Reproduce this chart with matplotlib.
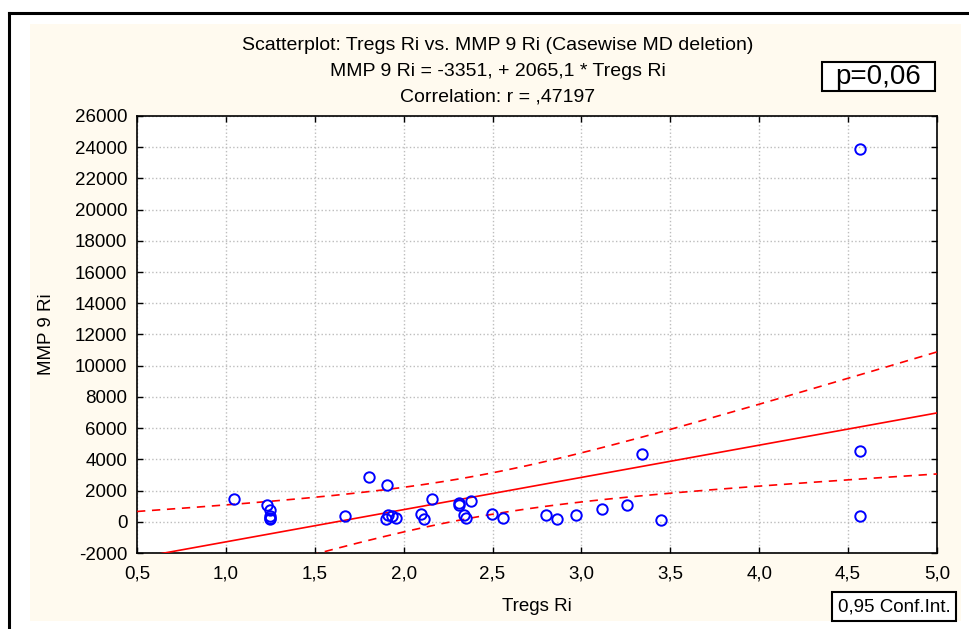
import numpy as np
import matplotlib
matplotlib.use("Agg")
import matplotlib.pyplot as plt
from matplotlib.patches import Rectangle
from matplotlib.lines import Line2D

plt.rcParams['font.family'] = ['Liberation Sans', 'DejaVu Sans']

# ---- data ----
tregs = [1.047, 1.23, 1.248, 1.25, 1.25, 1.25, 1.668, 1.803, 1.904, 1.90,
         1.913, 1.934, 1.957, 2.10, 2.114, 2.157, 2.313, 2.313, 2.337, 2.348,
         2.38, 2.498, 2.556, 2.802, 2.862, 2.969, 3.113, 3.256, 3.338, 3.446,
         4.566, 4.566, 4.566]
mmp9 = [1470, 1086, 741, 360, 250, 190, 339, 2875, 2364, 166,
        422, 339, 256, 511, 166, 1470, 1233, 1061, 422, 256,
        1316, 511, 256, 422, 166, 422, 850, 1061, 4345, 83,
        23900, 4511, 339]
intercept = -3351.0
slope = 2065.1

xticks = [0.5, 1.0, 1.5, 2.0, 2.5, 3.0, 3.5, 4.0, 4.5, 5.0]
xticklabels = ['0,5', '1,0', '1,5', '2,0', '2,5', '3,0', '3,5', '4,0', '4,5', '5,0']
yticks = list(range(-2000, 26001, 2000))
yticklabels = [str(v) for v in yticks]

title_lines = ["Scatterplot: Tregs Ri vs. MMP 9 Ri (Casewise MD deletion)",
               "MMP 9 Ri = -3351, + 2065,1 * Tregs Ri",
               "Correlation: r = ,47197"]

# ---- figure ----
W, H = 969, 629
fig = plt.figure(figsize=(W / 100, H / 100), dpi=100)
fig.patch.set_facecolor('white')

def fx(px):
    return px / W

def fy(py):
    return 1 - py / H

def fig_box(x0, y0, x1, y1, lw=1.5):
    fig.add_artist(Rectangle((fx(x0), fy(y1)), (x1 - x0) / W, (y1 - y0) / H,
                             transform=fig.transFigure, facecolor='white',
                             edgecolor='black', linewidth=lw, zorder=5))

# cream panel
fig.add_artist(Rectangle((fx(30), fy(621)), (961 - 30) / W, (621 - 24) / H,
                         transform=fig.transFigure, facecolor='#FFFAEF',
                         edgecolor='none', zorder=0))
# outer frame (top and left visible)
fig.add_artist(Line2D([fx(9), fx(9)], [fy(13), 0], transform=fig.transFigure,
                      color='black', lw=2.2, zorder=1))
fig.add_artist(Line2D([fx(9), 1], [fy(13), fy(13)], transform=fig.transFigure,
                      color='black', lw=2.2, zorder=1))

ax = fig.add_axes([fx(137), fy(553), (937 - 137) / W, (553 - 116) / H])
ax.set_facecolor('white')

x = np.array(tregs, dtype=float)
y = np.array(mmp9, dtype=float)
n = len(x)
xm = x.mean()
sxx = ((x - xm) ** 2).sum()
resid = y - (intercept + slope * x)
s = np.sqrt((resid ** 2).sum() / (n - 2))
tval = 2.04  # t(0.975, df~31)

xs = np.linspace(0.5, 5.0, 200)
yfit = intercept + slope * xs
hw = tval * s * np.sqrt(1.0 / n + (xs - xm) ** 2 / sxx)

ax.plot(xs, yfit, color='#FF0000', lw=1.2, zorder=3)
ax.plot(xs, yfit + hw, color='#FF0000', lw=1.2, ls=(0, (5, 4)), zorder=3)
ax.plot(xs, yfit - hw, color='#FF0000', lw=1.2, ls=(0, (5, 4)), zorder=3)
ax.plot(x, y, linestyle='none', marker='o', markersize=7.5,
        markerfacecolor='none', markeredgecolor='#0000FF', markeredgewidth=1.4,
        zorder=4)

ax.set_xlim(0.5, 5.0)
ax.set_ylim(-2000, 26000)
ax.set_xticks(xticks)
ax.set_xticklabels(xticklabels)
ax.set_yticks(yticks)
ax.set_yticklabels(yticklabels)
ax.tick_params(direction='in', length=4, width=1, top=True, right=True,
               labelsize=13.5, colors='black', pad=7)
ax.tick_params(axis='x', pad=9)
ax.grid(True, color='#BDBDBD', linestyle=':', linewidth=1)
for sp in ax.spines.values():
    sp.set_linewidth(1.2)
    sp.set_color('black')

ax.set_xlabel('Tregs Ri', fontsize=13.5, labelpad=11)
ax.set_ylabel('MMP 9 Ri', fontsize=13.5, labelpad=14)

for txt, py in zip(title_lines, [46, 71, 97]):
    fig.text(fx(498), fy(py), txt, ha='center', va='center', fontsize=14)

fig_box(822, 62, 935, 91)
fig.text(fx(878.5), fy(77), 'p=0,06', ha='center', va='center', fontsize=20,
         zorder=6)
fig_box(832, 592, 956, 621)
fig.text(fx(894), fy(607), '0,95 Conf.Int.', ha='center', va='center',
         fontsize=13.5, zorder=6)

fig.savefig('out.png', dpi=100, facecolor=fig.get_facecolor())
